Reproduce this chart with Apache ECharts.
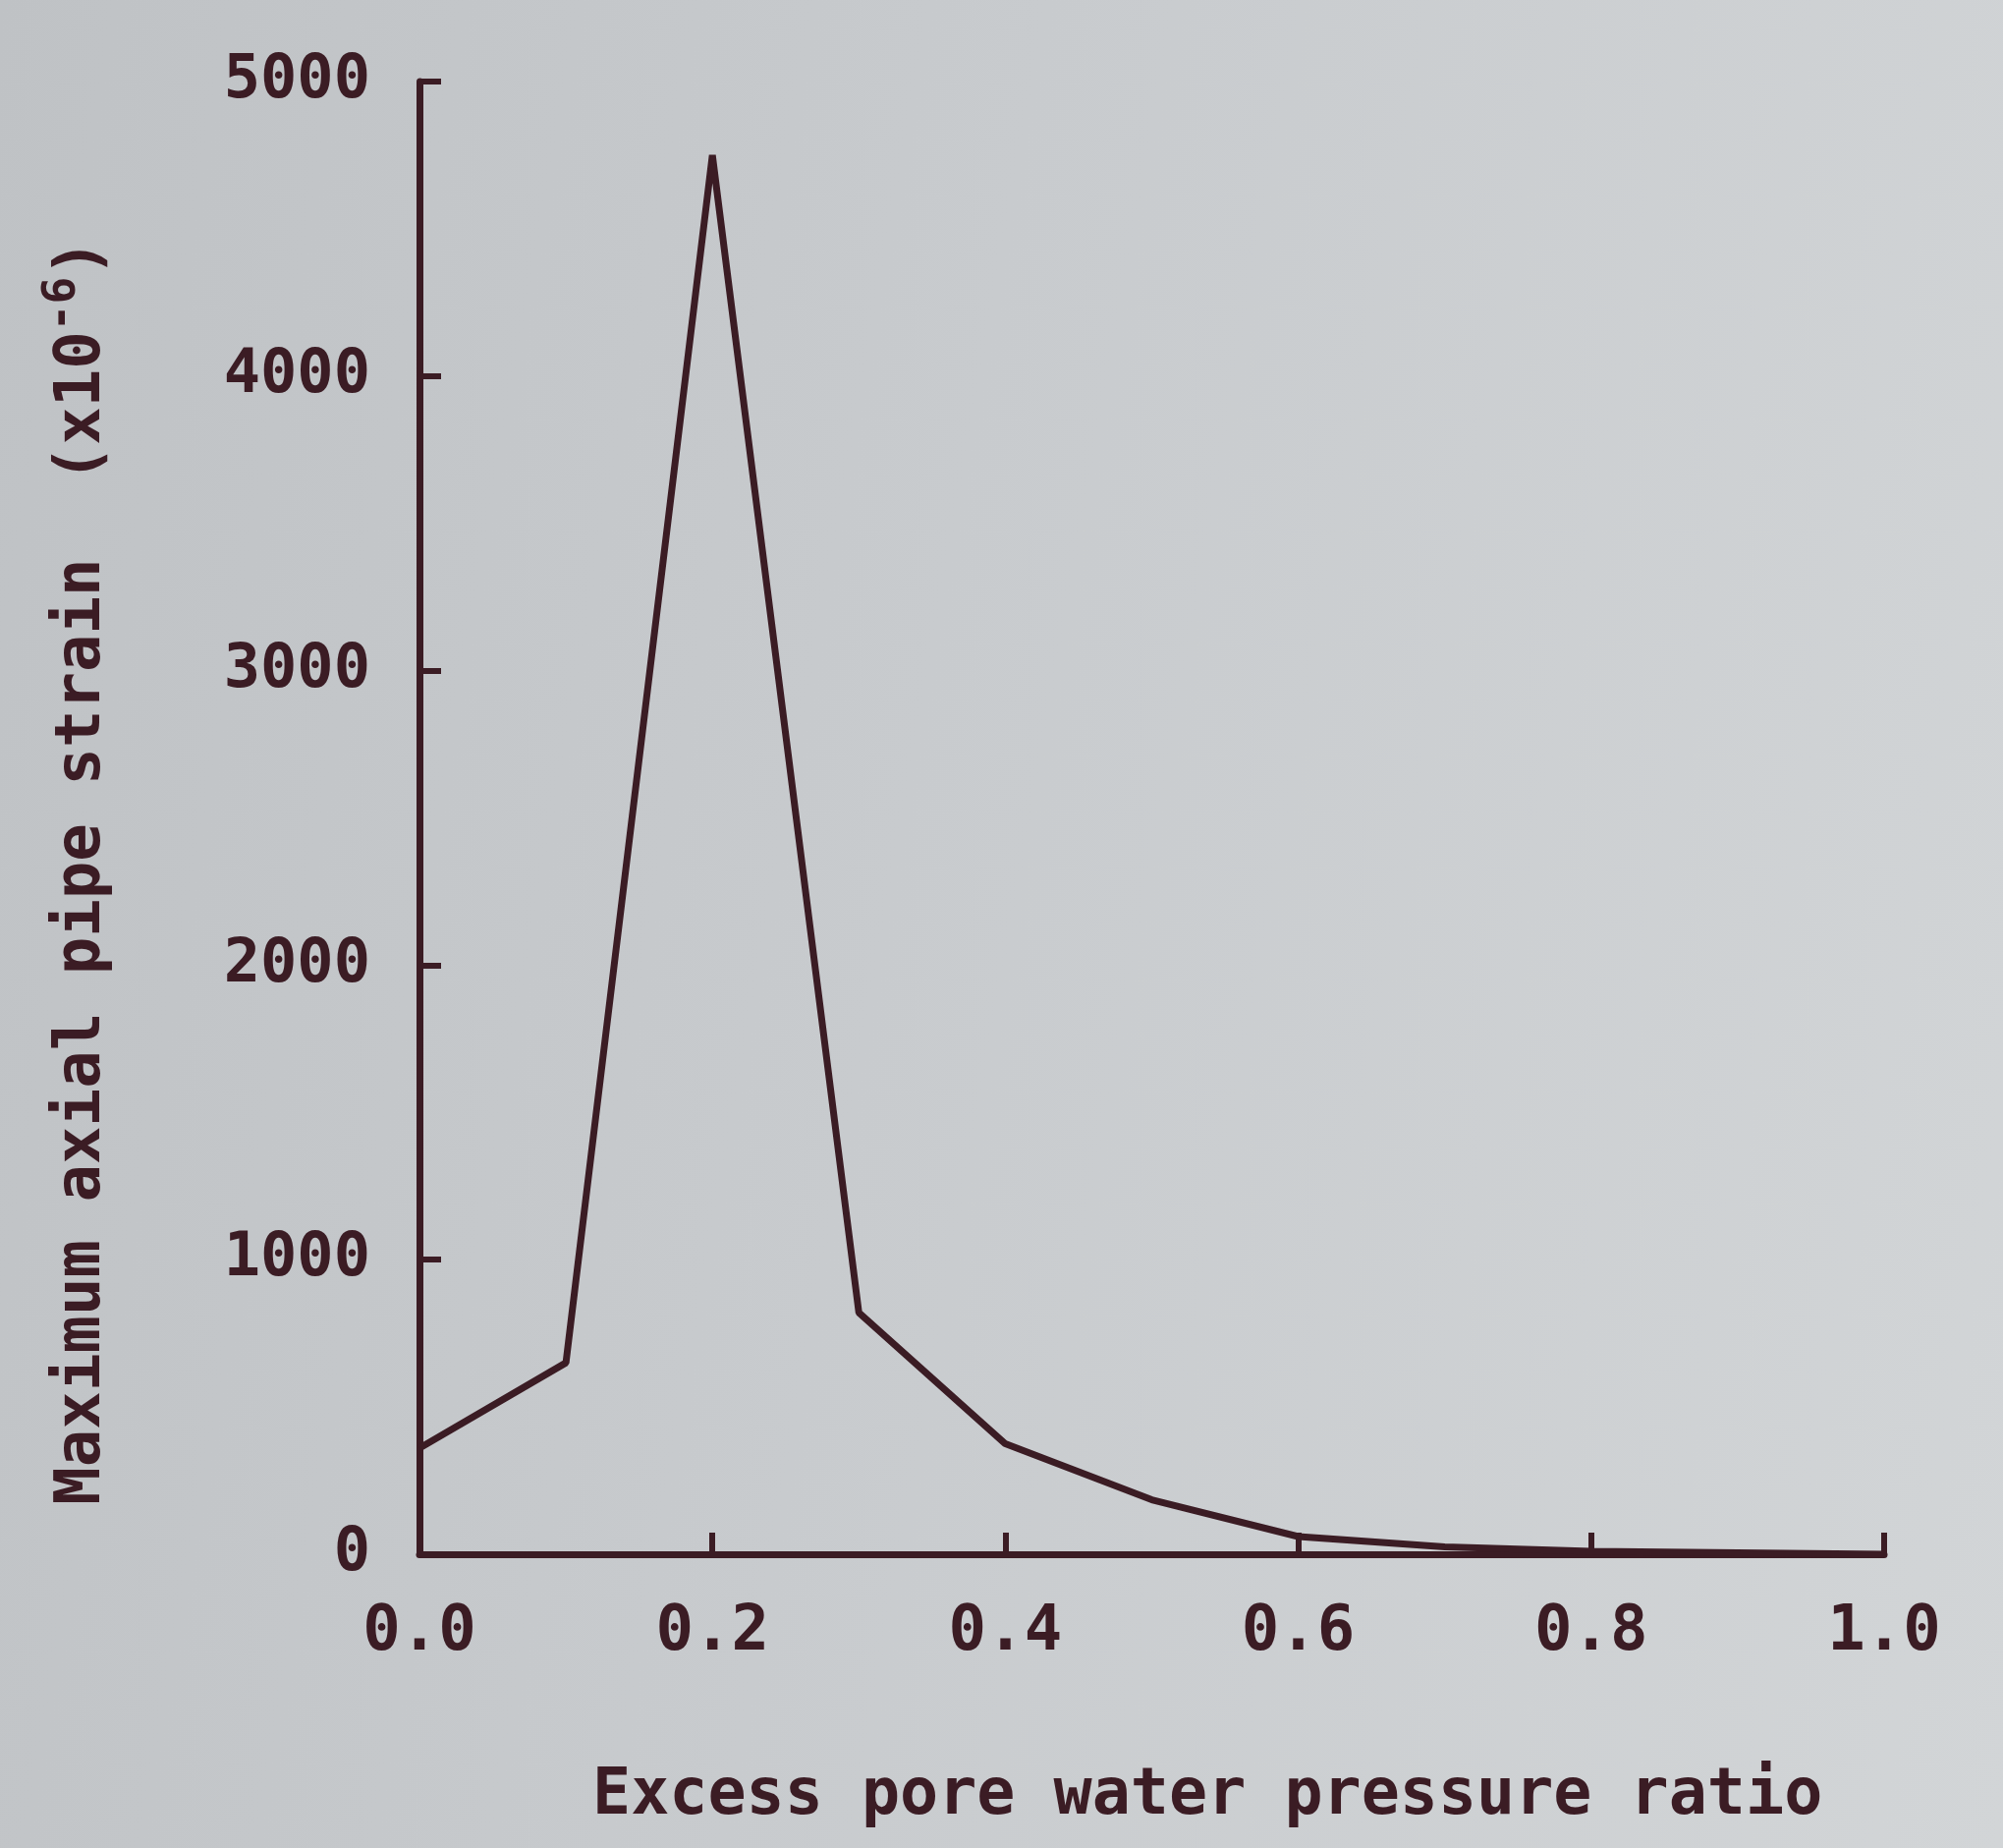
<!DOCTYPE html>
<html>
<head>
<meta charset="utf-8">
<script src="https://cdn.jsdelivr.net/npm/echarts@6/dist/echarts.min.js"></script>
<style>
  html, body { margin: 0; padding: 0; }
  body {
    width: 2039px; height: 1881px;
    background: linear-gradient(100deg, #bfc2c5 0%, #c8cbce 45%, #d2d5d7 100%);
  }
  #chart { width: 2039px; height: 1881px; }
</style>
</head>
<body>
<div id="chart"></div>
<script>
// excess pore water pressure ratio vs. max axial pipe strain (x10^-6)
const PRESSURE_RATIO = [0.0, 0.1, 0.2, 0.3, 0.4, 0.5, 0.6, 0.7, 0.8, 0.9, 1.0];
const AXIAL_STRAIN = [360, 650, 4750, 820, 375, 185, 60, 25, 10, 5, 0];

const X_LABELS = ["0.0", "0.2", "0.4", "0.6", "0.8", "1.0"];

const INK = "#3b1c24";
const FONT = "DejaVu Sans Mono";

const chart = echarts.init(document.getElementById("chart"));

chart.setOption({
  backgroundColor: "transparent",
  animation: false,
  title: {
    text: "Excess pore water pressure ratio",
    left: 598,
    top: 1792,
    textStyle: { fontFamily: FONT, fontSize: 65, fontWeight: "bold", color: INK }
  },
  grid: { left: 427, right: 121, top: 83, bottom: 299 },
  xAxis: {
    type: "value",
    min: 0,
    max: 1,
    interval: 0.2,
    axisLine: { lineStyle: { color: INK, width: 7 } },
    axisTick: { inside: true, length: 22, lineStyle: { color: INK, width: 6 } },
    splitLine: { show: false },
    axisLabel: {
      margin: 48,
      color: INK,
      fontFamily: FONT,
      fontWeight: "bold",
      fontSize: 64,
      formatter: (v) => X_LABELS[Math.round(v / 0.2)] ?? ""
    }
  },
  yAxis: {
    type: "value",
    min: 0,
    max: 5000,
    interval: 1000,
    name: "Maximum axial pipe strain  (x10{sup|-6})",
    nameLocation: "middle",
    nameRotate: 90,
    nameGap: 300,
    nameTextStyle: {
      fontFamily: FONT,
      fontWeight: "bold",
      fontSize: 64,
      color: INK,
      padding: [0, 110, 0, 0],
      rich: {
        sup: {
          fontFamily: FONT, fontWeight: "bold", fontSize: 46, color: INK,
          verticalAlign: "top", padding: [0, 0, 40, 0]
        }
      }
    },
    axisLine: { show: true, lineStyle: { color: INK, width: 7 } },
    axisTick: { show: true, inside: true, length: 22, lineStyle: { color: INK, width: 6 } },
    splitLine: { show: false },
    axisLabel: {
      margin: 50,
      color: INK,
      fontFamily: FONT,
      fontWeight: "bold",
      fontSize: 62,
      formatter: (v) => String(v)
    }
  },
  series: [
    {
      type: "line",
      data: PRESSURE_RATIO.map((x, i) => [x, AXIAL_STRAIN[i]]),
      symbol: "none",
      lineStyle: { color: INK, width: 7 }
    }
  ]
});
</script>
</body>
</html>
